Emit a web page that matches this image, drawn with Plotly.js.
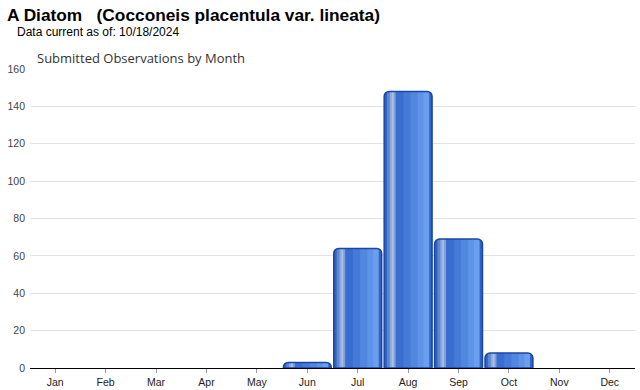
<!DOCTYPE html>
<html><head><meta charset="utf-8">
<script src="https://cdn.plot.ly/plotly-3.0.1.min.js"></script>
<style>html,body{margin:0;padding:0;background:#fff}#chart{width:640px;height:390px}</style>
</head><body><div id="chart"></div>
<script>
const months = ["Jan","Feb","Mar","Apr","May","Jun","Jul","Aug","Sep","Oct","Nov","Dec"];
const observations = [0,0,0,0,0,3,64,148,69,8,0,0];
const yTicks = [0,20,40,60,80,100,120,140,160];

const BAR_W = 0.95;
// shading strips across each bar: [start fraction, end fraction, colour]
const strips = [
  [0.06,0.12,"#5f86cf"],
  [0.12,0.16,"#8ea9db"],
  [0.16,0.20,"#aabfe2"],
  [0.20,0.24,"#7f9fd9"],
  [0.24,0.40,"#3a6dd0"],
  [0.40,0.55,"#457ad8"],
  [0.55,0.70,"#5287e0"],
  [0.70,0.82,"#5e93e8"],
  [0.82,0.94,"#6a9eef"]
];
const outlineW = observations.map(v => v > 0 ? 1.5 : 0);
const traces = [];
traces.push({type:"bar", x:months, y:observations, width:BAR_W,
  marker:{color:"#2f63c4", cornerradius:5, line:{width:0}}, hoverinfo:"skip", showlegend:false});
strips.forEach((s,i)=>{
  const ext = i < strips.length-1 ? 0.012 : 0;
  traces.push({type:"bar", x:months, y:observations,
    width:BAR_W*(s[1]-s[0]+ext), offset:-BAR_W/2+BAR_W*s[0],
    marker:{color:s[2], line:{width:0}}, hoverinfo:"skip", showlegend:false});
});
traces.push({type:"bar", x:months, y:observations, width:BAR_W,
  marker:{color:"rgba(0,0,0,0)", cornerradius:5, line:{color:"#1847a6", width:outlineW}},
  hoverinfo:"skip", showlegend:false});

const H = 299, L = 30, W = 605, T = 69;
const layout = {
  width:640, height:390,
  margin:{l:L, r:640-L-W, t:T, b:390-T-H},
  barmode:"overlay",
  plot_bgcolor:"#fff", paper_bgcolor:"#fff",
  font:{family:"Liberation Sans, Arial, sans-serif", size:11, color:"#222"},
  xaxis:{type:"category", categoryarray:months, showgrid:false, showline:true, linecolor:"#000", linewidth:1,
    ticks:"outside", ticklen:4, tickcolor:"#999", tickfont:{size:10.5, color:"#222"}, fixedrange:true},
  yaxis:{range:[0,160], tickvals:yTicks, showgrid:true, gridcolor:"#e3e3e3", zeroline:false,
    ticks:"", tickfont:{size:10.5, color:"#444"}, ticklabelstandoff:4, fixedrange:true},
  annotations:[
    {text:"<b>A Diatom\u00a0\u00a0\u00a0(Cocconeis placentula var. lineata)</b>", xref:"paper", yref:"paper",
      x:(5-L)/W, y:1+(T-3)/H, xanchor:"left", yanchor:"top", showarrow:false,
      font:{size:17.3, color:"#000", family:"Liberation Sans, Arial, sans-serif"}},
    {text:"Data current as of: 10/18/2024", xref:"paper", yref:"paper",
      x:(15-L)/W, y:1+(T-23)/H, xanchor:"left", yanchor:"top", showarrow:false,
      font:{size:12, color:"#000", family:"Liberation Sans, Arial, sans-serif"}},
    {text:"Submitted Observations by Month", xref:"paper", yref:"paper",
      x:(35-L)/W, y:1+(T-47)/H, xanchor:"left", yanchor:"top", showarrow:false,
      font:{size:13, color:"#333", family:"Open Sans, Liberation Sans, sans-serif"}}
  ]
};
Plotly.newPlot("chart", traces, layout, {displayModeBar:false, staticPlot:true});
</script></body></html>
